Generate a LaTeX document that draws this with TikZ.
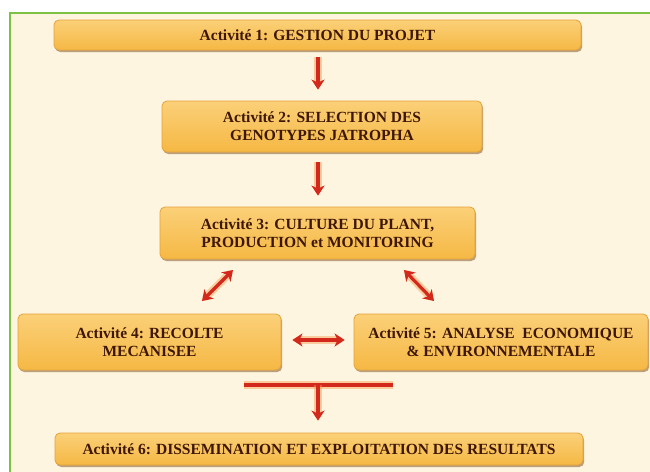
\documentclass[tikz,border=0pt]{standalone}
\usepackage{fontspec}
\setmainfont{Liberation Serif}
\usetikzlibrary{arrows.meta,shadows,shadings}
\definecolor{cream}{HTML}{FDF5E0}
\definecolor{frameg}{HTML}{7DC242}
\definecolor{boxtop}{HTML}{FBD078}
\definecolor{boxmid}{HTML}{F9C55A}
\definecolor{boxbot}{HTML}{F5B844}
\definecolor{boxline}{HTML}{E5A23A}
\definecolor{txt}{HTML}{3E1605}
\definecolor{arr}{HTML}{D3281C}
\definecolor{glow}{HTML}{F79A4A}
\tikzset{
  actbox/.style={rounded corners=5pt, draw=boxline, line width=0.8pt,
    top color=boxtop, middle color=boxmid, bottom color=boxbot, inner sep=0pt,
    text=txt, align=center,
    font=\fontsize{15.5}{18}\selectfont\bfseries,
    drop shadow={shadow xshift=1.2pt, shadow yshift=-2pt, fill=brown!70!black, opacity=0.55}},
  redline/.style={draw=arr, line width=3.2pt,
    preaction={draw=glow, line width=7.5pt, opacity=0.45}},
  tip/.tip={Stealth[length=10pt,width=13pt,inset=3pt]},
  redarrow/.style={redline, -tip},
  redboth/.style={redline, tip-tip}
}
\begin{document}
\begin{tikzpicture}[x=1pt,y=-1pt]
\useasboundingbox (0,0) rectangle (650,471);
\fill[white] (0,0) rectangle (650,471);
\fill[cream] (10,13) rectangle (660,480);
\draw[frameg, line width=2.2pt] (10,480) -- (10,13) -- (660,13);

\node[actbox, minimum width=527pt, minimum height=30pt] (b1) at (317.5,35) {Activité 1: GESTION DU PROJET};
\node[actbox, minimum width=320pt, minimum height=51pt] (b2) at (322,126.5) {Activité 2: SELECTION DES\\GENOTYPES JATROPHA};
\node[actbox, minimum width=315pt, minimum height=52pt] (b3) at (317.5,233) {Activité 3: CULTURE DU PLANT,\\PRODUCTION et MONITORING};
\node[actbox, minimum width=263pt, minimum height=56pt] (b4) at (149.5,342) {Activité 4: RECOLTE\\MECANISEE};
\node[actbox, minimum width=294pt, minimum height=56pt] (b5) at (501,342) {Activité 5: ANALYSE\ \ ECONOMIQUE\\\& ENVIRONNEMENTALE};
\node[actbox, minimum width=528pt, minimum height=32pt] (b6) at (319,449) {Activité 6: DISSEMINATION ET EXPLOITATION DES RESULTATS};

\draw[redarrow, shorten <=7pt, shorten >=11pt] (b1.south -| 318,0) -- (b2.north -| 318,0);
\draw[redarrow, shorten <=10pt, shorten >=11pt] (b2.south -| 318,0) -- (b3.north -| 318,0);

\coordinate (l1) at (233,270);
\coordinate (l2) at (202,301);
\coordinate (r1) at (404,270);
\coordinate (r2) at (434,301);
\draw[redboth] (l1) -- (l2);
\draw[redboth] (r1) -- (r2);

\draw[redboth, shorten <=11pt, shorten >=9pt] (b4.east |- 0,340) -- (b5.west |- 0,340);

\coordinate (tl) at (244,385);
\coordinate (tr) at (393,385);
\coordinate (tm) at (318,385);
\draw[redline] (tl) -- (tr);
\draw[redarrow, shorten >=12pt] (tm) -- (b6.north -| tm);
\end{tikzpicture}
\end{document}
